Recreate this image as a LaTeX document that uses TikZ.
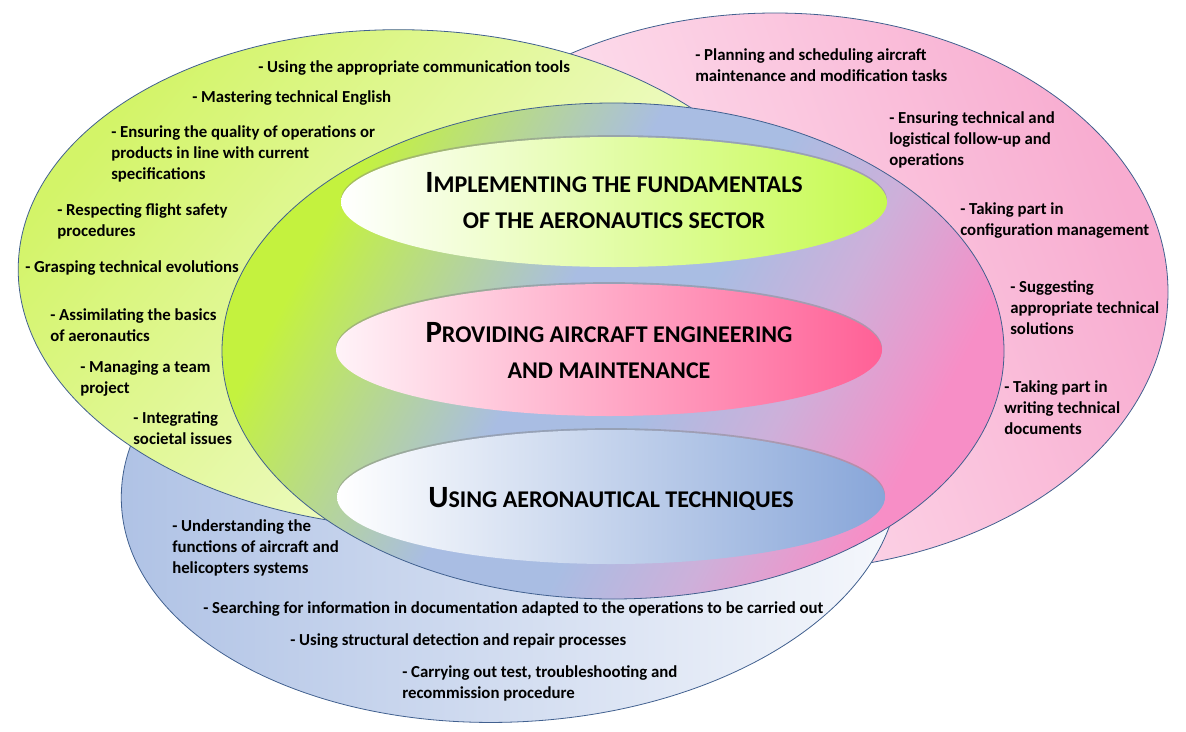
\documentclass[tikz,border=0pt]{standalone}
\usepackage{fontspec}
\setmainfont{Carlito}
\usetikzlibrary{shadows}

\definecolor{rimblue}{HTML}{41608F}
\definecolor{pinkpale}{HTML}{FFF3F8}
\definecolor{pinkring}{HTML}{F8ACD0}
\definecolor{bluering}{HTML}{AFC2E5}
\definecolor{bluepale}{HTML}{F6F8FC}
\definecolor{greenring}{HTML}{D3F468}
\definecolor{greenpale}{HTML}{FBFEEE}
\definecolor{coregreen}{HTML}{C4F23E}
\definecolor{coreblue}{HTML}{A9BDE3}
\definecolor{corelilac}{HTML}{CDB0DA}
\definecolor{corepink}{HTML}{F78EC6}
\definecolor{limeband}{HTML}{C6FA4E}
\definecolor{roseband}{HTML}{FF6096}
\definecolor{skyband}{HTML}{88A6D9}

\pgfdeclarehorizontalshading{coreshade}{100bp}{color(0bp)=(coregreen); color(27bp)=(coregreen); color(45bp)=(coreblue); color(54bp)=(coreblue); color(63bp)=(corelilac); color(73bp)=(corepink); color(100bp)=(corepink)}

\newcommand\initcap[2]{{\fontsize{23.2}{27}\selectfont#1}#2}

\begin{document}
\begin{tikzpicture}[x=0.75pt,y=-0.75pt,
  rim/.style={draw=rimblue,line width=0.6pt},
  item/.style={anchor=base west,align=left,inner sep=0pt,font=\bfseries\fontsize{12.6}{15.4}\selectfont},
  heading/.style={anchor=base,align=center,inner sep=0pt,font=\bfseries\fontsize{18}{27}\selectfont},
  band/.style={drop shadow={shadow xshift=0pt,shadow yshift=1.4pt,opacity=0.45}}]
\useasboundingbox (0,0) rectangle (1186,732);
% outer rings
\draw[rim,left color=pinkpale,right color=pinkring,shading angle=110] (775,292) ellipse [x radius=393,y radius=279];
\draw[rim,left color=bluering,right color=bluepale,rotate around={2.7:(510,486)}] (510,486) ellipse [x radius=389,y radius=236];
\draw[rim,top color=greenring,bottom color=greenpale,shading angle=50,rotate around={-2.3:(414,279)}] (414,279) ellipse [x radius=396,y radius=249];
% core
\draw[rim,shading=coreshade,shading angle=-28] (613,351) ellipse [x radius=391,y radius=248];
% inner bands
\path[band,left color=white,right color=limeband] (614,202) ellipse [x radius=273,y radius=65];
\path[band,left color=pinkpale,right color=roseband] (609,350) ellipse [x radius=273,y radius=66];
\path[band,left color=white,right color=skyband] (611,497) ellipse [x radius=274,y radius=67];

% multi-line nodes sit on the baseline of their last line
\node[heading] (fundamentals) at (614,228) {\initcap{I}{MPLEMENTING THE FUNDAMENTALS}\\OF THE AERONAUTICS SECTOR};
\node[heading] (engineering) at (609,378) {\initcap{P}{ROVIDING AIRCRAFT ENGINEERING}\\AND MAINTENANCE};
\node[heading] (techniques) at (611,507) {\initcap{U}{SING AERONAUTICAL TECHNIQUES}};

% left ring
\node[item] (tools) at (258,72) {- Using the appropriate communication tools};
\node[item] (english) at (192,102) {- Mastering technical English};
\node[item] (quality) at (111,179) {- Ensuring the quality of operations or\\products in line with current\\specifications};
\node[item] (safety) at (57,236.5) {- Respecting flight safety\\procedures};
\node[item] (evolutions) at (25,272) {- Grasping technical evolutions};
\node[item] (basics) at (50,341.5) {- Assimilating the basics\\of aeronautics};
\node[item] (team) at (80,393.5) {- Managing a team\\project};
\node[item] (societal) at (133,444.5) {- Integrating\\societal issues};
% right ring
\node[item] (planning) at (695,81.5) {- Planning and scheduling aircraft\\maintenance and modification tasks};
\node[item] (followup) at (889,165) {- Ensuring technical and\\logistical follow-up and\\operations};
\node[item] (config) at (960,235.5) {- Taking part in\\configuration management};
\node[item] (solutions) at (1010,334) {- Suggesting\\appropriate technical\\solutions};
\node[item] (documents) at (1004,434) {- Taking part in\\writing technical\\documents};
% bottom ring
\node[item] (systems) at (172,573) {- Understanding the\\functions of aircraft and\\helicopters systems};
\node[item] (search) at (203,613) {- Searching for information in documentation adapted to the operations to be carried out};
\node[item] (repair) at (290,645) {- Using structural detection and repair processes};
\node[item] (tests) at (402,698.5) {- Carrying out test, troubleshooting and\\recommission procedure};
\end{tikzpicture}
\end{document}
